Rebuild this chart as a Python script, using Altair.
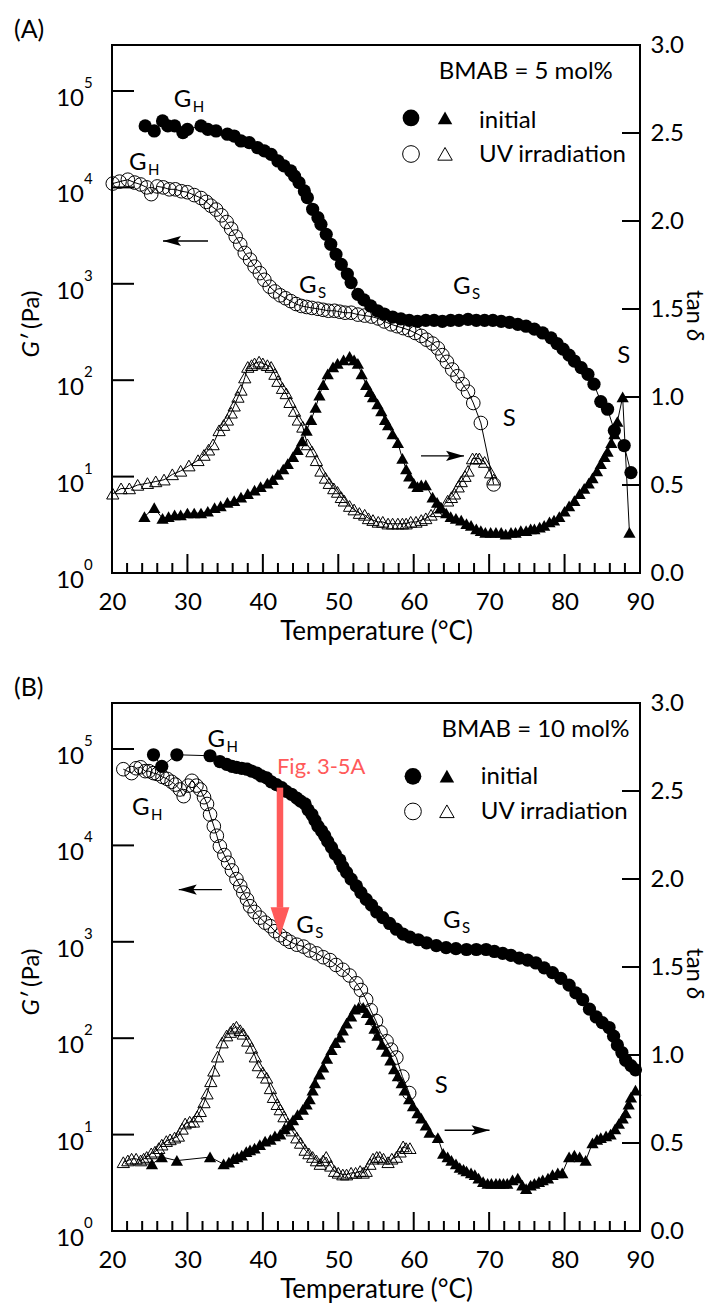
import altair as alt
import pandas as pd

FONT = "Lato"
W = 528
H = 528

# ---------------- Panel A (BMAB = 5 mol%) ----------------
# (Temperature °C, G' Pa)
A_G_INIT = [(24.4, 43400), (25.6, 38500), (26.7, 48900), (27.4, 43400), (28.3, 43400), (29.4, 37000),
            (30.0, 40000), (31.8, 43400), (32.7, 40000), (33.8, 38500), (35.3, 35600), (36.2, 34100),
            (37.1, 30300), (38.2, 29100), (39.3, 25800), (40.2, 23900), (41.1, 22000), (42.0, 18800),
            (42.8, 16700), (43.7, 14800), (44.2, 13100), (44.8, 11200), (45.5, 9180), (45.9, 7820),
            (46.6, 5930), (47.3, 4850), (47.7, 4140), (48.4, 3260), (49.0, 2570), (49.7, 2020),
            (50.4, 1590), (51.2, 1260), (51.7, 1030), (52.6, 778), (53.4, 680), (54.3, 589),
            (55.2, 525), (56.1, 486), (57.2, 452), (58.3, 432), (59.4, 417), (60.5, 407), (61.6, 417),
            (62.7, 417), (63.8, 407), (64.9, 417), (66.0, 417), (67.2, 427), (68.3, 417), (69.4, 417),
            (70.5, 417), (71.6, 407), (72.7, 398), (73.8, 380), (74.9, 363), (76.0, 339), (77.1, 309),
            (78.2, 275), (79.0, 240), (79.8, 210), (80.6, 182), (81.3, 158), (82.2, 135), (83.1, 115),
            (83.9, 91), (84.8, 60), (85.7, 50), (86.6, 30), (87.9, 21), (88.8, 11)]
A_G_UV = [(20.1, 10960), (21.0, 11480), (22.1, 12020), (23.0, 11220), (23.8, 10720), (24.6, 10000),
          (25.2, 8510), (26.0, 10230), (26.8, 10000), (27.6, 9550), (28.4, 9550), (29.2, 9120),
          (30.0, 8910), (30.9, 8320), (31.8, 7760), (32.5, 7080), (33.1, 6460), (33.8, 5890),
          (34.5, 5130), (35.2, 4370), (35.8, 3720), (36.4, 3090), (37.0, 2570), (37.6, 2090),
          (38.3, 1780), (38.9, 1510), (39.6, 1290), (40.2, 1100), (40.9, 933), (41.6, 832),
          (42.3, 759), (43.0, 708), (43.7, 661), (44.4, 617), (45.1, 589), (45.8, 575), (46.5, 562),
          (47.3, 550), (48.0, 537), (48.7, 525), (49.5, 525), (50.2, 513), (50.9, 501), (51.7, 501),
          (52.6, 479), (53.5, 468), (54.4, 457), (55.3, 437), (56.1, 407), (57.0, 380), (57.8, 363),
          (58.6, 347), (59.4, 331), (60.2, 309), (61.0, 288), (61.7, 263), (62.5, 240), (63.2, 214),
          (63.8, 182), (64.4, 155), (65.1, 129), (65.8, 110), (66.5, 91), (67.2, 76), (67.9, 58),
          (68.9, 36), (70.6, 8.3)]
# (Temperature °C, tan δ)
A_TAN_INIT = [(24.3, 0.32), (25.6, 0.37), (26.7, 0.31), (27.5, 0.32), (28.3, 0.33), (29.1, 0.33),
              (30.0, 0.34), (30.9, 0.34), (31.8, 0.34), (32.7, 0.35), (33.6, 0.37), (34.4, 0.38),
              (35.3, 0.40), (36.2, 0.41), (37.1, 0.43), (38.0, 0.45), (38.9, 0.47), (39.7, 0.49),
              (40.6, 0.51), (41.3, 0.53), (42.0, 0.56), (42.7, 0.59), (43.3, 0.62), (44.0, 0.66),
              (44.6, 0.70), (45.2, 0.75), (45.8, 0.81), (46.4, 0.87), (47.0, 0.94), (47.5, 1.01),
              (48.0, 1.07), (48.6, 1.13), (49.3, 1.17), (49.9, 1.19), (50.7, 1.21), (51.5, 1.23),
              (52.1, 1.21), (52.6, 1.19), (53.1, 1.13), (53.7, 1.07), (54.2, 1.03), (54.6, 1.00),
              (55.2, 0.96), (55.7, 0.92), (56.2, 0.87), (56.6, 0.84), (57.2, 0.79), (57.9, 0.74),
              (58.5, 0.65), (59.0, 0.59), (59.4, 0.55), (60.0, 0.51), (60.5, 0.49), (61.0, 0.50),
              (61.6, 0.50), (62.5, 0.43), (63.1, 0.40), (63.6, 0.37), (64.3, 0.34), (64.9, 0.32),
              (65.6, 0.31), (66.3, 0.30), (67.0, 0.28), (67.6, 0.27), (68.3, 0.25), (68.9, 0.24),
              (69.5, 0.23), (70.2, 0.23), (70.9, 0.23), (71.6, 0.23), (72.2, 0.22), (72.9, 0.23),
              (73.5, 0.23), (74.2, 0.24), (74.9, 0.24), (75.5, 0.25), (76.0, 0.25), (76.7, 0.26),
              (77.3, 0.27), (78.0, 0.29), (78.6, 0.30), (79.3, 0.32), (80.0, 0.35), (80.6, 0.38),
              (81.3, 0.41), (82.0, 0.45), (82.6, 0.48), (83.2, 0.51), (83.7, 0.54), (84.3, 0.58),
              (84.8, 0.62), (85.3, 0.66), (85.7, 0.69), (86.2, 0.74), (86.6, 0.79), (87.0, 0.86),
              (87.7, 1.00), (88.6, 0.23)]
A_TAN_UV = [(20.1, 0.45), (21.2, 0.48), (22.3, 0.48), (23.4, 0.50), (24.7, 0.51), (25.8, 0.52),
            (26.9, 0.53), (28.0, 0.56), (29.1, 0.58), (30.2, 0.61), (31.4, 0.64), (32.2, 0.67),
            (32.8, 0.70), (33.4, 0.73), (34.2, 0.81), (34.8, 0.84), (35.3, 0.87), (35.8, 0.91),
            (36.2, 0.95), (36.7, 1.00), (37.1, 1.04), (37.6, 1.11), (38.0, 1.17), (38.5, 1.18),
            (38.9, 1.19), (39.5, 1.20), (40.0, 1.19), (40.6, 1.18), (41.1, 1.17), (41.6, 1.13),
            (42.0, 1.09), (42.6, 1.05), (43.1, 1.02), (43.6, 0.97), (44.2, 0.92), (44.7, 0.87),
            (45.3, 0.83), (45.9, 0.73), (46.5, 0.69), (47.1, 0.64), (47.7, 0.58), (48.3, 0.54),
            (48.8, 0.51), (49.4, 0.48), (49.9, 0.46), (50.4, 0.43), (50.8, 0.41), (51.5, 0.38),
            (52.1, 0.36), (52.8, 0.34), (53.5, 0.33), (54.0, 0.31), (54.6, 0.30), (55.3, 0.29),
            (55.9, 0.29), (56.6, 0.28), (57.2, 0.28), (57.9, 0.28), (58.5, 0.28), (59.0, 0.28),
            (59.6, 0.29), (60.3, 0.29), (61.0, 0.30), (61.6, 0.31), (62.3, 0.33), (63.0, 0.35),
            (63.6, 0.37), (64.5, 0.41), (65.0, 0.43), (65.4, 0.45), (65.9, 0.49), (66.3, 0.52),
            (66.8, 0.55), (67.2, 0.58), (67.8, 0.65), (68.3, 0.65), (68.7, 0.65), (69.4, 0.63),
            (70.2, 0.57), (70.6, 0.53)]

# ---------------- Panel B (BMAB = 10 mol%) ----------------
B_G_INIT = [(25.5, 87100), (26.6, 66100), (28.6, 87100), (33.0, 85100), (34.3, 74100), (35.2, 69200),
            (35.9, 66100), (36.5, 64600), (37.2, 63100), (37.9, 61700), (38.5, 58900), (39.2, 56200),
            (39.8, 52500), (40.5, 50100), (41.1, 45700), (41.8, 42700), (42.5, 39800), (43.1, 36300),
            (43.8, 33900), (44.5, 30900), (45.0, 28800), (45.6, 26900), (46.0, 23400), (46.5, 20900),
            (46.9, 18200), (47.3, 15800), (47.8, 14100), (48.2, 12600), (48.6, 11000), (49.1, 9550),
            (49.6, 8130), (50.2, 7080), (50.6, 6030), (51.1, 5250), (51.7, 4470), (52.4, 3800),
            (53.0, 3240), (53.7, 2750), (54.4, 2400), (55.1, 2040), (55.9, 1780), (56.8, 1550),
            (57.7, 1350), (58.6, 1200), (59.5, 1120), (60.6, 1050), (61.7, 977), (63.0, 912),
            (64.3, 871), (65.6, 851), (67.0, 832), (68.3, 832), (69.6, 832), (70.7, 794), (71.8, 759),
            (72.9, 724), (74.0, 676), (75.1, 646), (76.2, 603), (77.3, 537), (78.4, 479), (79.5, 417),
            (80.6, 355), (81.5, 295), (82.4, 251), (83.3, 200), (84.2, 166), (85.0, 145), (85.9, 129),
            (86.5, 105), (87.0, 85), (87.6, 71), (88.1, 59), (88.8, 52), (89.4, 47)]
B_G_UV = [(21.5, 61700), (22.6, 56200), (23.2, 63100), (23.8, 64600), (24.4, 58900), (24.9, 58900),
          (25.5, 56200), (26.0, 55000), (26.7, 51300), (27.3, 49000), (27.9, 45700), (28.4, 42700),
          (29.0, 38000), (29.5, 32400), (30.1, 41700), (30.6, 46800), (31.2, 41700), (31.7, 38000),
          (32.2, 31600), (32.6, 26900), (33.0, 20900), (33.5, 15800), (33.9, 12600), (34.3, 9770),
          (34.9, 7940), (35.4, 6610), (35.9, 5500), (36.5, 4470), (37.0, 3800), (37.4, 3240),
          (37.9, 2750), (38.3, 2340), (38.9, 2040), (39.6, 1780), (40.3, 1580), (41.0, 1450),
          (41.6, 1290), (42.3, 1170), (43.0, 1070), (43.6, 1000), (44.5, 933), (45.4, 891),
          (46.2, 813), (47.1, 759), (48.0, 692), (48.9, 646), (49.7, 575), (50.6, 513), (51.5, 447),
          (52.4, 372), (53.0, 316), (53.7, 251), (54.3, 195), (55.0, 151), (55.6, 115), (56.4, 93),
          (57.0, 76), (57.7, 63), (58.5, 40), (59.4, 27)]
B_TAN_INIT = [(25.3, 0.38), (26.6, 0.42), (28.6, 0.40), (33.0, 0.42), (34.8, 0.38), (35.5, 0.39),
              (36.1, 0.41), (36.6, 0.42), (37.2, 0.43), (37.8, 0.45), (38.3, 0.46), (38.9, 0.47),
              (39.6, 0.49), (40.3, 0.51), (41.0, 0.52), (41.6, 0.54), (42.3, 0.55), (42.9, 0.58),
              (43.5, 0.60), (44.0, 0.63), (44.6, 0.66), (45.3, 0.69), (45.8, 0.72), (46.2, 0.75),
              (46.6, 0.80), (46.9, 0.84), (47.5, 0.89), (48.0, 0.93), (48.5, 0.98), (49.1, 1.03),
              (49.6, 1.07), (50.2, 1.10), (50.6, 1.14), (51.1, 1.18), (51.7, 1.22), (52.2, 1.26),
              (52.7, 1.27), (53.3, 1.27), (53.8, 1.24), (54.3, 1.20), (54.8, 1.15), (55.2, 1.11),
              (55.8, 1.06), (56.4, 1.02), (56.9, 0.97), (57.4, 0.92), (57.9, 0.88), (58.4, 0.84),
              (58.8, 0.80), (59.4, 0.75), (59.9, 0.71), (60.5, 0.67), (61.0, 0.64), (61.6, 0.60),
              (62.1, 0.56), (63.2, 0.53), (63.9, 0.44), (64.5, 0.42), (65.0, 0.40), (65.6, 0.38),
              (66.1, 0.36), (66.6, 0.35), (67.0, 0.34), (67.6, 0.33), (68.1, 0.32), (68.6, 0.30),
              (69.2, 0.28), (69.8, 0.27), (70.3, 0.27), (70.9, 0.27), (71.4, 0.27), (71.9, 0.27),
              (72.4, 0.27), (73.1, 0.29), (73.8, 0.30), (74.4, 0.26), (74.9, 0.24), (75.5, 0.26),
              (76.0, 0.27), (76.6, 0.28), (77.1, 0.29), (77.8, 0.30), (78.4, 0.32), (79.1, 0.33),
              (79.7, 0.33), (80.6, 0.42), (81.3, 0.43), (82.0, 0.42), (82.8, 0.40), (83.7, 0.50),
              (84.3, 0.52), (84.8, 0.53), (85.5, 0.54), (86.1, 0.55), (86.7, 0.58), (87.2, 0.61),
              (87.7, 0.64), (88.1, 0.67), (88.5, 0.72), (88.8, 0.76), (89.4, 0.80)]
B_TAN_UV = [(21.5, 0.39), (22.1, 0.40), (22.6, 0.41), (23.2, 0.41), (23.8, 0.40), (24.2, 0.41),
            (24.6, 0.42), (25.2, 0.44), (25.7, 0.45), (26.2, 0.47), (26.6, 0.49), (27.2, 0.51),
            (27.7, 0.52), (28.3, 0.53), (28.8, 0.54), (29.3, 0.58), (29.7, 0.61), (30.3, 0.62),
            (30.8, 0.62), (31.3, 0.65), (31.7, 0.68), (32.2, 0.73), (32.6, 0.78), (33.1, 0.85),
            (33.5, 0.91), (34.0, 0.99), (34.6, 1.07), (35.2, 1.11), (35.7, 1.13), (36.1, 1.15),
            (36.5, 1.16), (37.0, 1.14), (37.4, 1.12), (38.0, 1.08), (38.5, 1.04), (39.0, 0.99),
            (39.4, 0.94), (40.0, 0.90), (40.5, 0.87), (41.0, 0.81), (41.4, 0.76), (41.9, 0.72),
            (42.3, 0.69), (42.8, 0.65), (43.3, 0.61), (43.9, 0.57), (44.5, 0.53), (45.0, 0.50),
            (45.6, 0.46), (46.1, 0.44), (46.6, 0.42), (47.1, 0.40), (47.6, 0.38), (48.0, 0.40),
            (48.4, 0.42), (49.0, 0.37), (49.5, 0.34), (50.0, 0.33), (50.6, 0.32), (51.1, 0.32),
            (51.7, 0.33), (52.3, 0.33), (52.9, 0.34), (53.3, 0.33), (53.7, 0.34), (54.2, 0.38),
            (54.6, 0.41), (55.1, 0.42), (55.5, 0.42), (56.0, 0.41), (56.6, 0.39), (57.1, 0.41),
            (57.7, 0.42), (58.2, 0.45), (58.6, 0.48), (59.0, 0.47), (59.5, 0.47)]

# ---------------- axes / tick values ----------------
X_LABELS = [20, 30, 40, 50, 60, 70, 80, 90]
X_MAJOR = [30, 40, 50, 60, 70, 80]
X_MINOR = [22, 24, 26, 28, 32, 34, 36, 38, 42, 44, 46, 48, 52, 54, 56, 58,
           62, 64, 66, 68, 72, 74, 76, 78, 82, 84, 86, 88]
Y_DECADES = [1, 10, 100, 1000, 10000, 100000]
Y_EXPONENTS = ["0", "1", "2", "3", "4", "5"]
Y_TICKS = [10, 100, 1000, 10000, 100000]
TAN_LABELS = [0.0, 0.5, 1.0, 1.5, 2.0, 2.5, 3.0]
TAN_TICKS = [0.5, 1.0, 1.5, 2.0, 2.5]

# ---------------- annotations (in data coordinates: T, G') ----------------
A_G_LABELS = [("G", "H", 28.2, 68200), ("G", "H", 22.25, 15100), ("G", "S", 44.8, 803), ("G", "S", 65.2, 784)]
A_S_LABELS = [("S", 71.8, 33.5), ("S", 87.0, 152)]
A_BMAB = ("BMAB = 5 mol%", 86.4, 133000)
A_LEG_SYM_T = [59.64, 64.15]
A_LEG_ROW_G = [52500, 22200]
A_LEG_TEXT = [("initial", 68.66, 41300), ("UV irradiation", 68.66, 18300)]
A_ARROWS = [(32.73, 26.76, 2780), (60.97, 66.67, 16.4)]  # (tail T, tip T, G')

B_G_LABELS = [("G", "H", 32.66, 104000), ("G", "H", 22.65, 20900), ("G", "S", 44.43, 1240), ("G", "S", 63.88, 1400)]
B_S_LABELS = [("S", 62.78, 27)]
B_BMAB = ("BMAB = 10 mol%", 88.6, 132000)
B_LEG_SYM_T = [59.9, 64.4]
B_LEG_ROW_G = [52100, 22500]
B_LEG_TEXT = [("initial", 68.9, 43000), ("UV irradiation", 68.9, 18600)]
B_ARROWS = [(34.58, 28.85, 3480), (64.1, 70.05, 11.1)]
B_FIG = ("Fig. 3-5A", 41.87, 54600)
B_RED_ARROW = (42.27, 39700, 2260, 1140)  # T, top, head base, tip

RED = "#ff5a5a"
TRI = "M0,-0.9L1,0.85L-1,0.85Z"
HEAD_LEFT = "M0,0L1,-0.28L0.8,0L1,0.28Z"
HEAD_RIGHT = "M0,0L-1,-0.28L-0.8,0L-1,0.28Z"
HEAD_DOWN = "M-0.65,-2L0.65,-2L0,0Z"

FS = 24  # general text size

X_AXIS = alt.Axis(values=X_LABELS, tickSize=0, domain=False, grid=False, labelFontSize=FS,
                  labelFont=FONT, labelColor="black", labelPadding=17, labelFlush=False,
                  labelOverlap=False, title="Temperature (°C)", titleFontSize=26, titleFont=FONT,
                  titleFontWeight="normal", titleColor="black", titlePadding=4)
R_AXIS = alt.Axis(orient="right", values=TAN_LABELS, format=".1f", tickSize=0, domain=False,
                  grid=False, labelFontSize=FS, labelFont=FONT, labelColor="black", labelPadding=10,
                  labelFlush=False, labelOverlap=False, title=None)


def X(f="T"):
    return alt.X(f"{f}:Q", scale=alt.Scale(domain=[20, 90], nice=False, zero=False), axis=X_AXIS)


def YL(f="G"):
    return alt.Y(f"{f}:Q", scale=alt.Scale(type="log", domain=[1, 300000], nice=False), axis=None)


def YR(f="tan"):
    return alt.Y(f"{f}:Q", scale=alt.Scale(domain=[0, 3], nice=False, zero=False), axis=R_AXIS)


ONE = pd.DataFrame({"k": [0]})


def txt(align="left", size=FS, **kw):
    return dict(align=align, baseline="alphabetic", fontSize=size, font=FONT, color="black", **kw)


def panel(tag, g_init, g_uv, t_init, t_uv, g_labels, s_labels, bmab, leg_t, leg_g, leg_text,
          arrows, fig=None, red=None):
    gi = pd.DataFrame(g_init, columns=["T", "G"])
    gu = pd.DataFrame(g_uv, columns=["T", "G"])
    ti = pd.DataFrame(t_init, columns=["T", "tan"])
    tu = pd.DataFrame(t_uv, columns=["T", "tan"])

    right = alt.layer(
        alt.Chart(ti).mark_line(color="black", strokeWidth=1).encode(x=X(), y=YR()),
        alt.Chart(ti).mark_point(shape=TRI, filled=True, color="black", size=150, opacity=1)
        .encode(x=X(), y=YR()),
        alt.Chart(tu).mark_line(color="black", strokeWidth=1).encode(x=X(), y=YR()),
        alt.Chart(tu).mark_point(shape=TRI, filled=False, color="black", strokeWidth=1, size=150,
                                 opacity=1).encode(x=X(), y=YR()),
        alt.Chart(pd.DataFrame({"tan": TAN_TICKS})).mark_rule(color="black", strokeWidth=2)
        .encode(y=YR(), x=alt.value(W - 18), x2=alt.value(W)),
    )

    gl = pd.DataFrame(g_labels, columns=["m", "s", "T", "G"])
    sl = pd.DataFrame(s_labels, columns=["m", "T", "G"])
    lt = pd.DataFrame(leg_text, columns=["m", "T", "G"])
    ar = pd.DataFrame(arrows, columns=["a", "b", "G"])
    ar["shape"] = [HEAD_LEFT if b < a else HEAD_RIGHT for a, b in zip(ar["a"], ar["b"])]
    leg_fill = pd.DataFrame({"T": [leg_t[0]], "G": [leg_g[0]]})
    leg_tri_f = pd.DataFrame({"T": [leg_t[1]], "G": [leg_g[0]]})
    leg_open = pd.DataFrame({"T": [leg_t[0]], "G": [leg_g[1]]})
    leg_tri_o = pd.DataFrame({"T": [leg_t[1]], "G": [leg_g[1]]})
    ylab = pd.DataFrame({"G": Y_DECADES, "e": Y_EXPONENTS})

    layers = [
        alt.Chart(gi).mark_line(color="black", strokeWidth=1).encode(x=X(), y=YL()),
        alt.Chart(gi).mark_point(shape="circle", filled=True, color="black", size=175, opacity=1)
        .encode(x=X(), y=YL()),
        alt.Chart(gu).mark_line(color="black", strokeWidth=1).encode(x=X(), y=YL()),
        alt.Chart(gu).mark_point(shape="circle", filled=False, color="black", strokeWidth=1,
                                 size=185, opacity=1).encode(x=X(), y=YL()),
        # inward ticks
        alt.Chart(pd.DataFrame({"G": Y_TICKS})).mark_rule(color="black", strokeWidth=2)
        .encode(y=YL(), x=alt.value(0), x2=alt.value(22)),
        alt.Chart(pd.DataFrame({"T": X_MAJOR})).mark_rule(color="black", strokeWidth=2)
        .encode(x=X(), y=alt.value(H), y2=alt.value(H - 19)),
        alt.Chart(pd.DataFrame({"T": X_MINOR})).mark_rule(color="black", strokeWidth=2)
        .encode(x=X(), y=alt.value(H), y2=alt.value(H - 10)),
        # left tick labels 10^n
        alt.Chart(ylab).mark_text(**txt("right", FS, dy=15)).encode(
            x=alt.value(-28), y=YL(), text=alt.value("10")),
        alt.Chart(ylab).mark_text(**txt("left", 15, dy=-3)).encode(
            x=alt.value(-28), y=YL(), text="e:N"),
        # axis titles
        alt.Chart(ONE).mark_text(angle=270, align="left", baseline="middle", fontSize=FS,
                                 font=FONT, color="black").encode(
            x=alt.value(-80), y=alt.value(284), text=alt.value("(Pa)")),
        alt.Chart(ONE).mark_text(angle=270, align="right", baseline="middle", fontSize=FS,
                                 font=FONT, fontStyle="italic", color="black").encode(
            x=alt.value(-80), y=alt.value(289), text=alt.value("G′")),
        alt.Chart(ONE).mark_text(angle=90, align="right", baseline="middle", fontSize=FS,
                                 font=FONT, color="black").encode(
            x=alt.value(582), y=alt.value(279), text=alt.value("tan")),
        alt.Chart(ONE).mark_text(angle=90, align="left", baseline="middle", fontSize=FS,
                                 font=FONT, fontStyle="italic", color="black").encode(
            x=alt.value(582), y=alt.value(284), text=alt.value("δ")),
        # G_H / G_S labels
        alt.Chart(gl).mark_text(**txt("left", FS)).encode(x=X(), y=YL(), text="m:N"),
        alt.Chart(gl).mark_text(**txt("left", 15, dx=19, dy=5)).encode(x=X(), y=YL(), text="s:N"),
        alt.Chart(sl).mark_text(**txt("left", FS)).encode(x=X(), y=YL(), text="m:N"),
        # BMAB
        alt.Chart(pd.DataFrame([bmab], columns=["m", "T", "G"])).mark_text(**txt("right", FS))
        .encode(x=X(), y=YL(), text="m:N"),
        # legend
        alt.Chart(leg_fill).mark_point(shape="circle", filled=True, color="black", size=280,
                                       opacity=1).encode(x=X(), y=YL()),
        alt.Chart(leg_tri_f).mark_point(shape=TRI, filled=True, color="black", size=210,
                                        opacity=1).encode(x=X(), y=YL()),
        alt.Chart(leg_open).mark_point(shape="circle", filled=False, color="black", strokeWidth=1,
                                       size=280, opacity=1).encode(x=X(), y=YL()),
        alt.Chart(leg_tri_o).mark_point(shape=TRI, filled=False, color="black", strokeWidth=1,
                                        size=210, opacity=1).encode(x=X(), y=YL()),
        alt.Chart(lt).mark_text(**txt("left", FS)).encode(x=X(), y=YL(), text="m:N"),
        # thin arrows
        alt.Chart(ar).mark_rule(color="black", strokeWidth=1.3).encode(
            x=X("a"), x2=alt.X2("b:Q"), y=YL()),
        alt.Chart(ar).mark_point(filled=True, color="black", size=1296, opacity=1).encode(
            x=X("b"), y=YL(), shape=alt.Shape("shape:N", scale=None)),
    ]
    if fig is not None:
        layers.append(
            alt.Chart(pd.DataFrame([fig], columns=["m", "T", "G"])).mark_text(
                align="left", baseline="alphabetic", fontSize=22, font=FONT, color=RED)
            .encode(x=X(), y=YL(), text="m:N"))
    if red is not None:
        rd = pd.DataFrame([red], columns=["T", "top", "base", "tip"])
        layers.append(alt.Chart(rd).mark_rule(color=RED, strokeWidth=6.5, strokeCap="butt")
                      .encode(x=X(), y=YL("top"), y2=alt.Y2("base:Q")))
        layers.append(alt.Chart(rd).mark_point(shape=HEAD_DOWN, filled=True, color=RED, size=841,
                                               opacity=1).encode(x=X(), y=YL("tip")))
    left = alt.layer(*layers)

    return alt.layer(right, left).resolve_scale(y="independent").properties(
        width=W, height=H,
        title=alt.TitleParams(tag, anchor="start", frame="group", dx=-98, fontSize=25, font=FONT,
                              fontWeight="normal", color="black", offset=-10))


pA = panel("(A)", A_G_INIT, A_G_UV, A_TAN_INIT, A_TAN_UV, A_G_LABELS, A_S_LABELS, A_BMAB,
           A_LEG_SYM_T, A_LEG_ROW_G, A_LEG_TEXT, A_ARROWS)
pB = panel("(B)", B_G_INIT, B_G_UV, B_TAN_INIT, B_TAN_UV, B_G_LABELS, B_S_LABELS, B_BMAB,
           B_LEG_SYM_T, B_LEG_ROW_G, B_LEG_TEXT, B_ARROWS, fig=B_FIG, red=B_RED_ARROW)

chart = alt.vconcat(pA, pB, spacing=30).properties(
    padding={"left": 5, "top": 9, "right": 4, "bottom": 0}
).configure(font=FONT).configure_view(stroke="black", strokeWidth=2)

chart.save("out.html", embed_options={"renderer": "svg", "actions": False})
